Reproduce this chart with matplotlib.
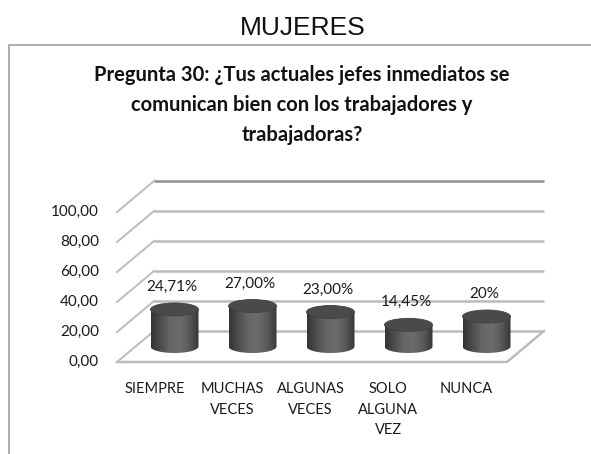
import numpy as np
import matplotlib.pyplot as plt
from matplotlib.patches import Ellipse, Polygon, Rectangle
from matplotlib.colors import LinearSegmentedColormap

categories = ["SIEMPRE", "MUCHAS\nVECES", "ALGUNAS\nVECES", "SOLO\nALGUNA\nVEZ", "NUNCA"]
values = [24.71, 27.00, 23.00, 14.45, 20.0]
value_labels = ["24,71%", "27,00%", "23,00%", "14,45%", "20%"]
yticks = [0, 20, 40, 60, 80, 100]
ytick_labels = ["0,00", "20,00", "40,00", "60,00", "80,00", "100,00"]

title = ("Pregunta 30: ¿Tus actuales jefes inmediatos se\n"
         "comunican bien con los trabajadores y\n"
         "trabajadoras?")

W, H = 591, 454
fig = plt.figure(figsize=(W / 100, H / 100), dpi=100)
ax = fig.add_axes([0, 0, 1, 1])
ax.axis("off")

# one category = 78 px, one unit = 1.5 px, front floor corner at px (117, 362)
xlim = ((0 - 156) / 78, (W - 156) / 78)
ylim = ((362 - H) / 1.5, 362 / 1.5)

# fake 3d: back wall is shifted by (dx, dy) from the front plane
dx = 37 / 78
dy = 31 / 1.5
n = len(values)
grid_c = "#bcbcbc"

# back wall grid lines with their left-side diagonals
for v in yticks:
    c = "#8f8f8f" if v == yticks[-1] else grid_c
    ax.plot([-0.5 + dx, n - 0.5 + dx], [v + dy, v + dy], color=c, lw=1.8, zorder=1,
            solid_capstyle="butt")
    ax.plot([-0.5, -0.5 + dx], [v, v + dy], color=grid_c, lw=1.4, zorder=1)

# floor
ax.plot([-0.5, n - 0.5, n - 0.5 + dx], [0, 0, dy], color=grid_c, lw=1.8, zorder=1)

for v, lab in zip(yticks, ytick_labels):
    ax.text((99 - 156) / 78, v, lab, ha="right", va="center", fontsize=11,
            family="Lato", color="#1a1a1a")

# cylinders sit half way into the floor
bar_w = 48 / 78
ell_h = 13 / 1.5
base = dy / 2
cyl_cmap = LinearSegmentedColormap.from_list(
    "cyl", ["#343434", "#4e4e4e", "#666666", "#6c6c6c", "#5a5a5a", "#363636"])
grad = np.linspace(0, 1, 200).reshape(1, -1)

for i, (v, lab) in enumerate(zip(values, value_labels)):
    xc = i + dx / 2
    top = base + v
    x0, x1 = xc - bar_w / 2, xc + bar_w / 2
    t = np.linspace(np.pi, 2 * np.pi, 60)
    arc = np.column_stack([xc + bar_w / 2 * np.cos(t), base + ell_h / 2 * np.sin(t)])
    body = np.vstack([arc, [[x1, top], [x0, top]]])
    poly = Polygon(body, closed=True, facecolor="none", edgecolor="none", zorder=2)
    ax.add_patch(poly)
    im = ax.imshow(grad, extent=[x0, x1, base - ell_h / 2, top], aspect="auto",
                   cmap=cyl_cmap, zorder=2, interpolation="bilinear")
    im.set_clip_path(poly)
    ax.add_patch(Ellipse((xc, top), bar_w, ell_h, facecolor="#4a4a4a",
                         edgecolor="#404040", lw=0.6, zorder=3))
    ax.text(xc - 0.03, top + 15, lab, ha="center", va="center", fontsize=11,
            family="Lato", color="#1a1a1a", zorder=4)

for i, cat in enumerate(categories):
    ax.text(i - 0.02, (362 - 382) / 1.5, cat, ha="center", va="top", fontsize=10.5,
            family="Lato", color="#1a1a1a", linespacing=1.6)

ax.set_xlim(*xlim)
ax.set_ylim(*ylim)

# chart frame
fig.patches.append(Rectangle((8.7 / W, -0.5), 2, 1 - 45 / H + 0.5, transform=fig.transFigure,
                             fill=False, edgecolor="#a6a6a6", lw=1.3))

fig.text(303 / W, 1 - 28 / H, "MUJERES", ha="center", va="center", fontsize=19,
         family="Liberation Sans", color="#111111")
fig.text(302 / W, 1 - 65 / H, title, ha="center", va="top", fontsize=14.5,
         family="Lato", weight="bold", color="#111111", linespacing=1.62)

fig.savefig("out.png", dpi=100)
